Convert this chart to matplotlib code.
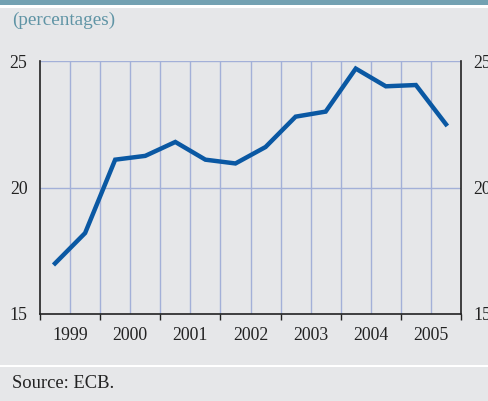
import numpy as np
import matplotlib.pyplot as plt
from matplotlib.patches import Rectangle

# half-yearly observations, plotted at the middle of each half-year
periods = [1999.25, 1999.75, 2000.25, 2000.75, 2001.25, 2001.75, 2002.25,
           2002.75, 2003.25, 2003.75, 2004.25, 2004.75, 2005.25, 2005.75]
values = [17.0, 18.2, 21.1, 21.25, 21.8, 21.1, 20.95,
          21.6, 22.8, 23.0, 24.7, 24.0, 24.05, 22.5]
years = [1999, 2000, 2001, 2002, 2003, 2004, 2005]
y_ticks = [15, 20, 25]

BG = '#e6e7e9'
LINE = '#0a58a3'
GRID = '#a3b0d8'
TEAL = '#5f94a5'

plt.rcParams['font.family'] = ['Liberation Serif', 'DejaVu Serif']

fig = plt.figure(figsize=(4.88, 4.01), dpi=100)
fig.patch.set_facecolor(BG)

H = 401.0
# header band and separators
fig.patches.append(Rectangle((0, 1 - 5 / H), 1, 5 / H, transform=fig.transFigure,
                             facecolor='#73a1b2', edgecolor='none'))
fig.patches.append(Rectangle((0, 1 - 7.5 / H), 1, 2.5 / H, transform=fig.transFigure,
                             facecolor='white', edgecolor='none'))
fig.patches.append(Rectangle((0, 1 - 367 / H), 1, 2.5 / H, transform=fig.transFigure,
                             facecolor='white', edgecolor='none'))

fig.text(12 / 488, 1 - 20 / H, '(percentages)', color=TEAL, fontsize=13.8,
         ha='left', va='center')
fig.text(12 / 488, 1 - 383 / H, 'Source: ECB.', color='#222222', fontsize=13.3,
         ha='left', va='center')

ax = fig.add_axes([40 / 488, 1 - 314 / H, 421 / 488, 253 / H])
ax.set_facecolor(BG)

ax.plot(periods, values, color=LINE, linewidth=3.2, solid_joinstyle='miter',
        zorder=3)

ax.set_xlim(1999, 2006)
ax.set_ylim(15, 25)

# vertical grid at half-years, horizontal at 20 and 25
for x in np.arange(1999.5, 2006, 0.5):
    ax.axvline(x, color=GRID, linewidth=1, zorder=1)
for y in y_ticks[1:]:
    ax.axhline(y, color=GRID, linewidth=1, zorder=1)

ax.set_xticks([y + 0.5 for y in years])
ax.set_xticklabels([str(y) for y in years])
ax.set_xticks(np.arange(1999, 2006.01, 0.5), minor=True)
ax.tick_params(axis='x', which='major', length=0, pad=9, labelsize=12.8,
               colors='#222222')
ax.tick_params(axis='x', which='minor', direction='out', length=4, width=1,
               color='#222222')

ax.set_yticks(y_ticks)
ax.tick_params(axis='y', left=False, right=False, labelleft=True,
               labelright=True, labelsize=12.8, pad=5.5, colors='#222222')

for side in ['left', 'right', 'bottom']:
    ax.spines[side].set_color('#222222')
    ax.spines[side].set_linewidth(1.2)
ax.spines['top'].set_visible(False)

fig.savefig('out.png', dpi=100, facecolor=BG)
